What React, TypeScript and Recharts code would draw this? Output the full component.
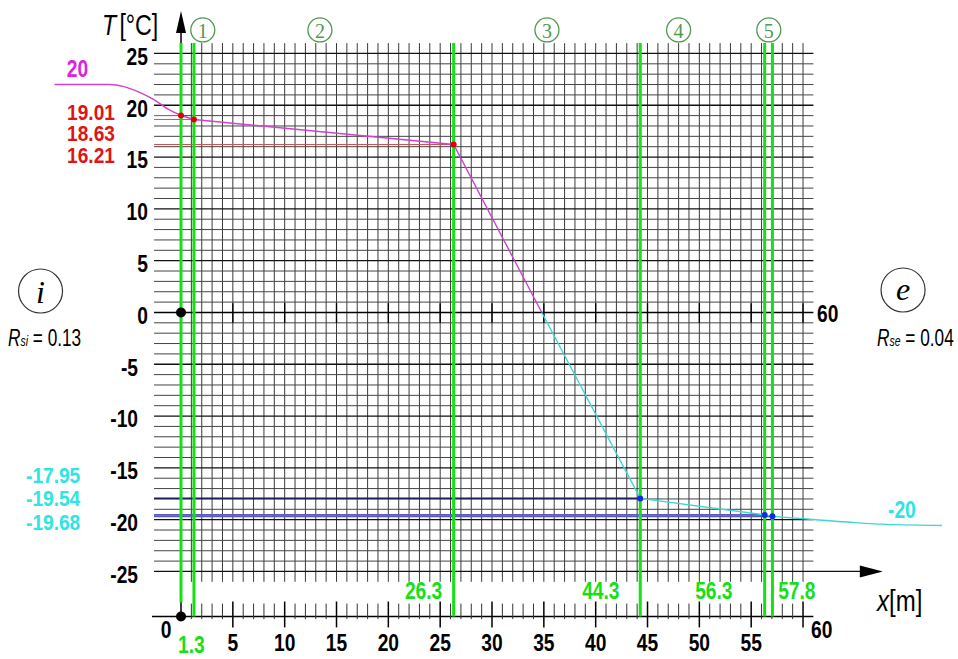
import React from 'react';
import { ComposedChart, Line, ReferenceDot, ReferenceLine, XAxis, YAxis } from 'recharts';

// layer boundaries [m] (as drawn) and surface temperatures [°C]
const layerX = [0, 1.25, 26.3, 44.3, 56.3, 57.05];
const layerLabels = ['0', '1.3', '26.3', '44.3', '56.3', '57.8'];
const surfaceT = [19.01, 18.63, 16.21, -17.95, -19.54, -19.68];
const zeroCrossX = 34.8;

// boundary layer curves (inside / outside air)
const insideX = [-12.2, -6.9, -5.5, -4.0, -2.7, -1.2, 0];
const insideT = [22, 22, 21.8, 21.25, 20.6, 19.6, 19.01];
const outsideX = [57.05, 61, 64.8, 68.1, 73.4];
const outsideT = [-19.68, -19.98, -20.27, -20.46, -20.56];

const yTicks = [25, 20, 15, 10, 5, 0, -5, -10, -15, -20, -25];
const xTicks = [5, 10, 15, 20, 25, 30, 35, 40, 45, 50, 55];
const layerNums = ['1', '2', '3', '4', '5'];
const layerNumX = [2.1, 13.4, 35.3, 48.0, 56.7];

const gridV = Array.from({ length: 60 }, (_, i) => i + 1);
const gridH = Array.from({ length: 51 }, (_, i) => 25 - i).filter((t) => t !== 0);
const bottomTicks = Array.from({ length: 60 }, (_, i) => i + 1);

const SANS = "'Liberation Sans Narrow', 'Arial Narrow', 'Liberation Sans', Arial, sans-serif";
const GREEN = '#16e016';
const MAGENTA = '#cc44cc';
const CYAN = '#3fd6d6';

const toPts = (xs: number[], ts: number[]) => xs.map((x, i) => ({ x, t: ts[i] }));

const innerLine = [...toPts(layerX.slice(0, 3), surfaceT.slice(0, 3)), { x: zeroCrossX, t: 0 }];
const outerLine = [{ x: zeroCrossX, t: 0 }, ...toPts(layerX.slice(3), surfaceT.slice(3))];

function seg(key: string, x1: number, y1: number, x2: number, y2: number, stroke: string, w: number, z: number) {
  return (
    <ReferenceLine
      key={key}
      segment={[{ x: x1, y: y1 }, { x: x2, y: y2 }]}
      stroke={stroke}
      strokeWidth={w}
      ifOverflow="visible"
      zIndex={z}
    />
  );
}

function mark(key: string, x: number, y: number, draw: (cx: number, cy: number) => React.ReactElement, z = 700) {
  return (
    <ReferenceDot
      key={key}
      x={x}
      y={y}
      r={1}
      ifOverflow="visible"
      zIndex={z}
      shape={(p: any) => draw(p.cx, p.cy)}
    />
  );
}

// narrow text: horizontally squeezed around its anchor point
function narrow(cx: number, cy: number, children: React.ReactNode, props: any, squeeze = 0.8) {
  return (
    <text
      transform={`translate(${cx} ${cy}) scale(${squeeze} 1)`}
      x={0}
      y={0}
      dominantBaseline="central"
      fontFamily={SANS}
      {...props}
    >
      {children}
    </text>
  );
}

function label(key: string, x: number, y: number, text: string, fill: string, anchor: 'start' | 'middle' | 'end', size = 24, dy = 0, squeeze = 0.8) {
  return mark(key, x, y, (cx, cy) =>
    narrow(cx, cy + dy, text, { textAnchor: anchor, fill, fontWeight: 'bold', fontSize: size }, squeeze)
  );
}

export default function App() {
  return (
    <div style={{ position: 'absolute', left: 0, top: 0, background: '#fff' }}>
      <ComposedChart width={958} height={659} margin={{ top: 0, right: 0, bottom: 0, left: 0 }}>
        <XAxis dataKey="x" type="number" domain={[-17.46, 74.95]} allowDataOverflow hide />
        <YAxis type="number" domain={[-33.45, 30.16]} allowDataOverflow hide />

        {/* grid */}
        {gridV.map((u) => seg(`v${u}`, u, -26, u, 26, '#3a3a3a', 1, 100))}
        {gridH.map((t) =>
          seg(`h${t}`, -2.6, t, t === -25 ? 65.5 : 61, t, t % 5 === 0 ? '#111' : '#444', t % 5 === 0 ? 1.3 : 1, 100)
        )}

        {/* zero axis with ticks */}
        {seg('zero', -2.6, 0, 61, 0, '#000', 1.6, 110)}
        {[...xTicks, 60].map((u) => seg(`zt${u}`, u, 0.9, u, -1.0, '#000', 1.4, 110))}

        {/* bottom x axis */}
        {seg('bottom', -2.8, -29.35, 61, -29.35, '#000', 1.3, 110)}
        {bottomTicks.map((u) =>
          u % 5 === 0
            ? seg(`bt${u}`, u, -27.9, u, -30.4, '#000', 1.5, 110)
            : seg(`bt${u}`, u, -28.1, u, -29.6, '#333', 1, 110)
        )}

        {/* y axis */}
        {seg('yaxis', 0, 27.2, 0, -29.35, '#000', 1.5, 110)}

        {/* surface temperature guide lines */}
        {seg('r0', -2.6, surfaceT[0], layerX[0], surfaceT[0], '#d05050', 1, 150)}
        {seg('r1', -2.6, surfaceT[1], layerX[1], surfaceT[1], '#d05050', 1, 150)}
        {seg('r2', -2.6, surfaceT[2], layerX[2], surfaceT[2], '#d05050', 1, 150)}
        {seg('b3', -2.6, surfaceT[3], layerX[3], surfaceT[3], '#1e1e5a', 1.6, 150)}
        {seg('b4', -2.6, surfaceT[4], layerX[4], surfaceT[4], '#5a5ac0', 1.6, 150)}
        {seg('b5', -2.6, surfaceT[5], layerX[5], surfaceT[5], '#5a5ac0', 1.6, 150)}

        {/* layer boundaries */}
        {layerX.map((u, i) => seg(`g${i}`, u, 26, u, i === 0 ? -28.0 : -29.35, GREEN, 3, 200))}

        {/* temperature profile */}
        <Line data={toPts(insideX, insideT)} dataKey="t" type="monotone" stroke={MAGENTA} strokeWidth={1.4} dot={false} activeDot={false} isAnimationActive={false} zIndex={400} />
        <Line data={innerLine} dataKey="t" type="linear" stroke={MAGENTA} strokeWidth={1.4} dot={false} activeDot={false} isAnimationActive={false} zIndex={400} />
        <Line data={outerLine} dataKey="t" type="linear" stroke={CYAN} strokeWidth={1.4} dot={false} activeDot={false} isAnimationActive={false} zIndex={400} />
        <Line data={toPts(outsideX, outsideT)} dataKey="t" type="monotone" stroke={CYAN} strokeWidth={1.4} dot={false} activeDot={false} isAnimationActive={false} zIndex={400} />

        {/* surface points */}
        {layerX.map((u, i) =>
          mark(`p${i}`, u, surfaceT[i], (cx, cy) => <circle cx={cx} cy={cy} r={3} fill={i < 3 ? '#e00000' : '#0a2ee0'} />, 600)
        )}
        {mark('o1', 0, 0, (cx, cy) => <circle cx={cx} cy={cy} r={5} fill="#000" />, 600)}
        {mark('o2', 0, -29.35, (cx, cy) => <circle cx={cx} cy={cy} r={5} fill="#000" />, 600)}

        {/* arrows */}
        {mark('ay', 0, 29.1, (cx, cy) => <polygon points={`${cx},${cy} ${cx - 5},${cy + 22} ${cx + 5},${cy + 22}`} fill="#000" />, 600)}
        {mark('ax', 67.7, -25, (cx, cy) => <polygon points={`${cx},${cy} ${cx - 23},${cy - 6} ${cx - 23},${cy + 6}`} fill="#000" />, 600)}

        {/* y tick labels */}
        {yTicks.map((t) => label(`yl${t}`, t < 0 ? -4.15 : -3.2, t, String(t), '#000', 'end', 24, 3))}

        {/* x tick labels */}
        {label('xl0', -1.45, -30.65, '0', '#000', 'middle')}
        {xTicks.map((u) => label(`xl${u}`, u, -31.85, String(u), '#000', 'middle'))}
        {label('xl60', 61.8, -30.65, '60', '#000', 'middle')}
        {label('zl60', 61.35, -0.15, '60', '#000', 'start')}

        {/* layer boundary labels */}
        {label('gl1', 1.0, -32.1, layerLabels[1], GREEN, 'middle')}
        {label('gl2', 25.2, -26.9, layerLabels[2], GREEN, 'end')}
        {label('gl3', 42.3, -26.9, layerLabels[3], GREEN, 'end')}
        {label('gl4', 53.2, -26.9, layerLabels[4], GREEN, 'end')}
        {label('gl5', 57.6, -26.9, layerLabels[5], GREEN, 'start')}

        {/* temperature labels */}
        {label('ti', -9.98, 23.48, '20', '#e020e0', 'middle')}
        {label('t0', -10.99, 19.35, surfaceT[0].toFixed(2), '#e01414', 'start', 22, 0, 0.87)}
        {label('t1', -10.99, 17.32, surfaceT[1].toFixed(2), '#e01414', 'start', 22, 0, 0.87)}
        {label('t2', -10.99, 15.2, surfaceT[2].toFixed(2), '#e01414', 'start', 22, 0, 0.87)}
        {label('t3', -14.95, -15.69, surfaceT[3].toFixed(2), '#2ee4e4', 'start', 22, 0, 0.87)}
        {label('t4', -14.95, -17.9, surfaceT[4].toFixed(2), '#2ee4e4', 'start', 22, 0, 0.87)}
        {label('t5', -14.95, -20.22, surfaceT[5].toFixed(2), '#2ee4e4', 'start', 22, 0, 0.87)}
        {label('te', 68.2, -19.06, '-20', '#2ee4e4', 'start')}

        {/* layer numbers */}
        {layerNums.map((n, i) =>
          mark(`ln${n}`, layerNumX[i], 27.27, (cx, cy) => (
            <g>
              <circle cx={cx} cy={cy} r={12} fill="#fff" stroke="#4f9a4f" strokeWidth={1.3} />
              <text x={cx} y={cy + 1} textAnchor="middle" dominantBaseline="central" fill="#4f9a4f" fontFamily="'Liberation Serif', serif" fontSize={20}>
                {n}
              </text>
            </g>
          ))
        )}

        {/* axis titles */}
        {mark('tt', -7.62, 27.75, (cx, cy) =>
          narrow(cx, cy, [
            <tspan key="a" fontStyle="italic">T</tspan>,
            <tspan key="b" dx={4}>[°C]</tspan>,
          ], { fontSize: 29, fill: '#000' })
        )}
        {mark('xt', 67.14, -27.75, (cx, cy) =>
          narrow(cx, cy, [
            <tspan key="a" fontStyle="italic">x</tspan>,
            <tspan key="b">[m]</tspan>,
          ], { fontSize: 30, fill: '#000' })
        )}

        {/* inside / outside */}
        {mark('ci', -13.55, 2.07, (cx, cy) => (
          <g>
            <circle cx={cx} cy={cy} r={22} fill="#fff" stroke="#333" strokeWidth={1.2} />
            <text x={cx} y={cy + 1} textAnchor="middle" dominantBaseline="central" fontFamily="'Liberation Serif', serif" fontStyle="italic" fontSize={32} fill="#000">
              i
            </text>
          </g>
        ))}
        {mark('ce', 69.65, 2.17, (cx, cy) => (
          <g>
            <circle cx={cx} cy={cy} r={22} fill="#fff" stroke="#333" strokeWidth={1.2} />
            <text x={cx} y={cy - 1} textAnchor="middle" dominantBaseline="central" fontFamily="'Liberation Serif', serif" fontStyle="italic" fontSize={32} fill="#000">
              e
            </text>
          </g>
        ))}
        {mark('rsi', -16.69, -2.46, (cx, cy) =>
          narrow(cx, cy, [
            <tspan key="a" fontStyle="italic">R</tspan>,
            <tspan key="b" fontStyle="italic" fontSize={14} dy={4}>si</tspan>,
            <tspan key="c" dy={-4}> = 0.13</tspan>,
          ], { fontSize: 23, fill: '#000' }, 0.75)
        )}
        {mark('rse', 67.14, -2.46, (cx, cy) =>
          narrow(cx, cy, [
            <tspan key="a" fontStyle="italic">R</tspan>,
            <tspan key="b" fontStyle="italic" fontSize={14} dy={4}>se</tspan>,
            <tspan key="c" dy={-4}> = 0.04</tspan>,
          ], { fontSize: 23, fill: '#000' }, 0.75)
        )}
      </ComposedChart>
    </div>
  );
}
